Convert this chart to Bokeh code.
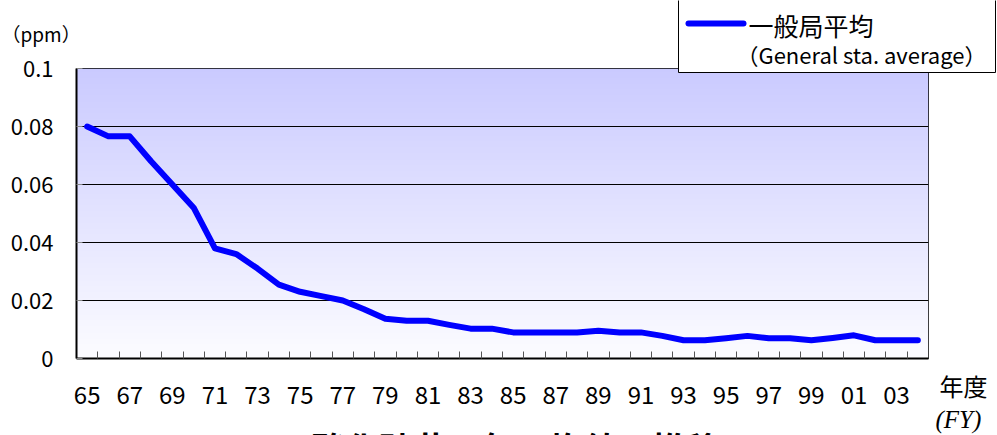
import numpy as np
from bokeh.plotting import figure
from bokeh.models import FixedTicker, Label, Range1d, GridBox, Plot
from bokeh.embed import file_html
from bokeh.resources import INLINE

# ---------------- data ----------------
fiscal_years = [1965, 1966, 1967, 1968, 1969, 1970, 1971, 1972, 1973, 1974,
                1975, 1976, 1977, 1978, 1979, 1980, 1981, 1982, 1983, 1984,
                1985, 1986, 1987, 1988, 1989, 1990, 1991, 1992, 1993, 1994,
                1995, 1996, 1997, 1998, 1999, 2000, 2001, 2002, 2003, 2004]
so2_ppm = [0.080, 0.0766, 0.0766, 0.068, 0.060, 0.052, 0.038, 0.036, 0.031, 0.0255,
           0.023, 0.0215, 0.020, 0.017, 0.0137, 0.013, 0.013, 0.0116, 0.0103, 0.0103,
           0.009, 0.009, 0.009, 0.009, 0.0096, 0.009, 0.009, 0.0078, 0.0063, 0.0063,
           0.007, 0.0078, 0.007, 0.007, 0.0063, 0.0071, 0.008, 0.0063, 0.0063, 0.0063]
x_tick_labels = ["65", "67", "69", "71", "73", "75", "77", "79", "81", "83",
                 "85", "87", "89", "91", "93", "95", "97", "99", "01", "03"]
y_ticks = [0, 0.02, 0.04, 0.06, 0.08, 0.1]
y_tick_labels = ["0", "0.02", "0.04", "0.06", "0.08", "0.1"]
series_name = "一般局平均"
series_name_en = "（General sta. average）"
unit_label = "（ppm）"
x_label_ja = "年度"
x_label_en = "(FY)"
chart_title = "二酸化硫黄の年平均値の推移"

# ---------------- layout ----------------
W, H = 997, 435
FL, FR, FT, FB = 76, 69, 68, 77
n = len(fiscal_years)
YMAX = y_ticks[-1]
JP = "Noto Sans CJK JP"
BLUE = "#0000FF"
HAS_FRAME_ALIGN = "frame_align" in Plot.properties()

p = figure(width=W, height=H, output_backend="svg", toolbar_location=None,
           x_range=Range1d(0, n), y_range=Range1d(0, YMAX),
           min_border_left=FL, min_border_right=FR,
           min_border_top=FT, min_border_bottom=FB)
p.background_fill_color = "white"
p.border_fill_color = "white"
p.outline_line_color = "black"
p.outline_line_width = 1
if HAS_FRAME_ALIGN:
    p.frame_align = False

# gradient background of plot area
N = 256
img = np.empty((N, 1), dtype=np.uint32)
view = img.view(dtype=np.uint8).reshape((N, 1, 4))
t = np.linspace(0, 1, N)
top_c = [202, 202, 255]
bot_c = [252, 252, 255]
for c in range(3):
    view[:, 0, c] = np.round(bot_c[c] + (top_c[c] - bot_c[c]) * t).astype(np.uint8)
view[:, 0, 3] = 255
bg = p.image_rgba(image=[img], x=0, y=0, dw=n, dh=YMAX)
bg.level = "image"

# series line
xs = [i + 0.5 for i in range(n)]
p.line(x=xs, y=so2_ppm, line_color=BLUE, line_width=6,
       line_join="round", line_cap="round")

# y axis
p.yaxis.ticker = FixedTicker(ticks=y_ticks)
p.yaxis.major_label_overrides = dict(zip(y_ticks, y_tick_labels))
p.yaxis.major_label_text_font = JP
p.yaxis.major_label_text_font_size = "22px"
p.yaxis.major_label_text_color = "black"
p.yaxis.major_tick_in = 6
p.yaxis.major_tick_out = 0
p.yaxis.major_tick_line_color = "#888888"
p.yaxis.minor_tick_line_color = None
p.yaxis.major_label_standoff = 23
p.yaxis.axis_line_color = "black"
p.yaxis.axis_line_width = 2

# x axis
centers = [i * 2 + 0.5 for i in range(len(x_tick_labels))]
boundaries = list(range(1, n))
p.xaxis.ticker = FixedTicker(ticks=centers, minor_ticks=boundaries)
p.xaxis.major_label_overrides = dict(zip(centers, x_tick_labels))
p.xaxis.major_label_text_font = JP
p.xaxis.major_label_text_font_size = "24px"
p.xaxis.major_label_text_color = "black"
p.xaxis.major_tick_line_color = None
p.xaxis.minor_tick_in = 7
p.xaxis.minor_tick_out = 0
p.xaxis.minor_tick_line_color = "#555555"
p.xaxis.major_label_standoff = 21
p.xaxis.axis_line_color = "black"
p.xaxis.axis_line_width = 2

# grid
p.xgrid.visible = False
p.ygrid.ticker = FixedTicker(ticks=y_ticks)
p.ygrid.grid_line_color = "black"
p.ygrid.grid_line_width = 1

# ------------- overlay canvas for texts and legend (pixel coordinates) -------------
ov = figure(width=W, height=H, output_backend="svg", toolbar_location=None,
            x_range=Range1d(0, W), y_range=Range1d(H, 0),
            x_axis_type=None, y_axis_type=None, min_border=0, title=None)
ov.xgrid.visible = False
ov.ygrid.visible = False
ov.outline_line_color = None
ov.background_fill_alpha = 0
ov.border_fill_alpha = 0
if HAS_FRAME_ALIGN:
    ov.frame_align = False

# legend box, sample line and texts
ov.quad(left=678, right=995, top=-2, bottom=72,
        fill_color="white", line_color="black", line_width=1)
ov.line(x=[688, 743], y=[23, 23], line_color=BLUE, line_width=6, line_cap="round")
ov.add_layout(Label(x=748, y=24, text=series_name, text_font=JP,
                    text_font_size="25px", text_baseline="middle", text_align="left",
                    text_color="black"))
ov.add_layout(Label(x=736, y=53, text=series_name_en, text_font=JP,
                    text_font_size="22px", text_baseline="middle", text_align="left",
                    text_color="black"))

# other texts
ov.add_layout(Label(x=1, y=33, text=unit_label, text_font=JP,
                    text_font_size="19px", text_baseline="middle", text_align="left",
                    text_color="black"))
ov.add_layout(Label(x=939, y=385, text=x_label_ja, text_font=JP,
                    text_font_size="24px", text_baseline="middle", text_align="left",
                    text_color="black"))
ov.add_layout(Label(x=935, y=419, text=x_label_en, text_font="Liberation Serif",
                    text_font_style="italic", text_font_size="25px",
                    text_baseline="middle", text_align="left", text_color="black"))
ov.add_layout(Label(x=498, y=422, text=chart_title, text_font=JP,
                    text_font_style="bold", text_font_size="34px",
                    text_baseline="top", text_align="center", text_color="black"))

layout = GridBox(children=[(p, 0, 0), (ov, 0, 0)])

open("out.html", "w").write(file_html(layout, INLINE))
